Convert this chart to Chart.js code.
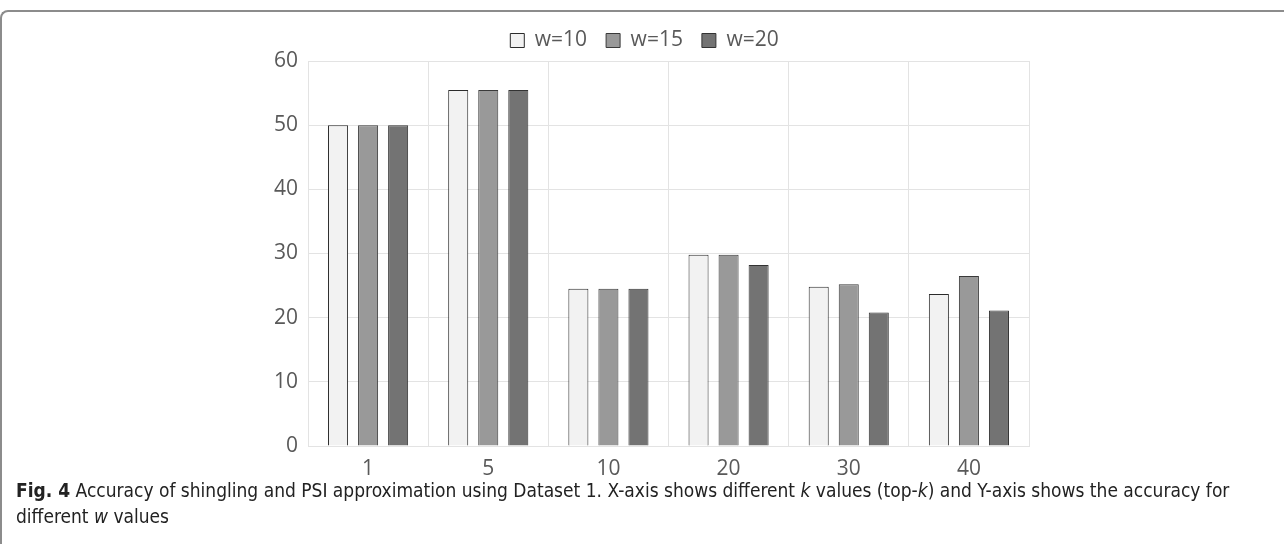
<!DOCTYPE html>
<html>
<head>
<meta charset="utf-8">
<script src="https://cdn.jsdelivr.net/npm/chart.js@4"></script>
<style>
  html, body { margin: 0; padding: 0; background: #fff; }
  body { width: 1284px; height: 544px; position: relative; overflow: hidden; }
  #frame {
    position: absolute; left: 0; top: 10px; width: 1290px; height: 600px;
    border-top: 2px solid #8c8c8c; border-left: 2px solid #8c8c8c;
    border-top-left-radius: 8px; box-sizing: border-box;
  }
  #wrap { position: absolute; left: 0; top: 0; width: 1284px; height: 480px; }
  #caption {
    position: absolute; left: 16px; top: 477px; width: 1236px;
    font-family: "Liberation Sans Narrow", "DejaVu Sans Condensed", sans-serif;
    font-size: 19px; line-height: 26px; color: #222;
  }
</style>
</head>
<body>
<div id="frame"></div>
<div id="wrap"><canvas id="chart"></canvas></div>
<div id="caption"><b>Fig. 4</b> Accuracy of shingling and PSI approximation using Dataset 1. X-axis shows different <i>k</i> values (top-<i>k</i>) and Y-axis shows the accuracy for different <i>w</i> values</div>
<script>
const categories = ["1", "5", "10", "20", "30", "40"];
const w10 = [50, 55.5, 24.5, 29.8, 24.8, 23.7];
const w15 = [50, 55.5, 24.5, 29.8, 25.2, 26.5];
const w20 = [50, 55.5, 24.5, 28.2, 20.8, 21.1];
const yTicks = [0, 10, 20, 30, 40, 50, 60];

document.addEventListener("DOMContentLoaded", function () {
  const ctx = document.getElementById("chart").getContext("2d");
  const font = { family: "'Open Sans', 'Liberation Sans', sans-serif", size: 21 };
  new Chart(ctx, {
    type: "bar",
    data: {
      labels: categories,
      datasets: [
        { label: "w=10", data: w10, backgroundColor: "#f2f2f2", borderColor: "#2b2b2b", borderWidth: 1 },
        { label: "w=15", data: w15, backgroundColor: "#999999", borderColor: "#3a3a3a", borderWidth: 1 },
        { label: "w=20", data: w20, backgroundColor: "#737373", borderColor: "#333333", borderWidth: 1 },
      ],
    },
    options: {
      responsive: true,
      maintainAspectRatio: false,
      animation: false,
      categoryPercentage: 0.75,
      barPercentage: 0.667,
      layout: { padding: { left: 260, right: 255, top: 11, bottom: 0 } },
      plugins: {
        tooltip: { enabled: false },
        legend: {
          position: "top",
          labels: {
            color: "#595959",
            font: font,
            boxWidth: 14,
            boxHeight: 14,
            padding: 19,
          },
        },
      },
      scales: {
        x: {
          grid: { color: "#e3e3e3", offset: true, drawTicks: false },
          border: { color: "#e3e3e3" },
          ticks: { color: "#595959", font: font, padding: 10 },
          afterFit: function (scale) { scale.height = 34; },
        },
        y: {
          min: 0,
          max: 60,
          afterBuildTicks: function (scale) { scale.ticks = yTicks.map(v => ({ value: v })); },
          grid: { color: "#e3e3e3", drawTicks: false },
          border: { display: false },
          ticks: { color: "#595959", font: font, padding: 10 },
          afterFit: function (scale) { scale.width = 48; },
        },
      },
    },
  });
});
</script>
</body>
</html>
